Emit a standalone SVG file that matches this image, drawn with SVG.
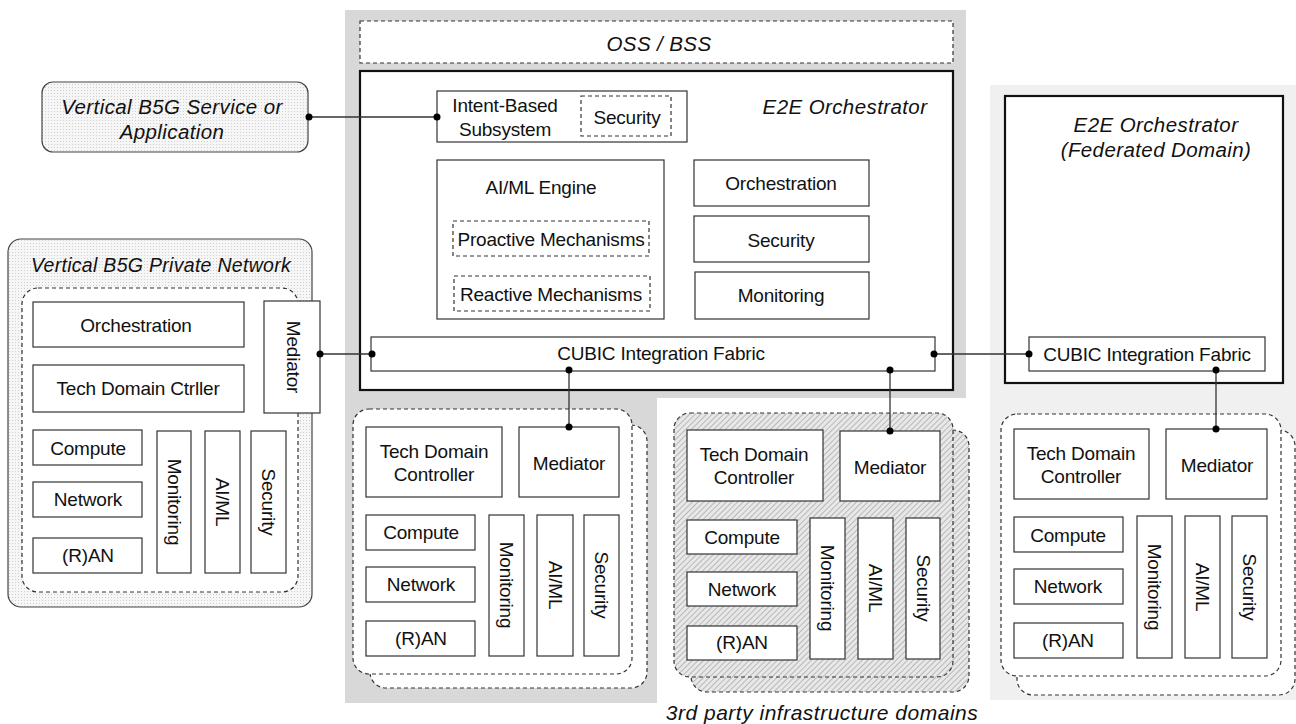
<svg xmlns="http://www.w3.org/2000/svg" width="1296" height="724" viewBox="0 0 1296 724">
<defs>
<pattern id="dots" width="3" height="3" patternUnits="userSpaceOnUse"><rect width="3" height="3" fill="#f6f6f6"/><rect width="1" height="1" fill="#cfcfcf"/></pattern>
<pattern id="hatch" width="4" height="4" patternUnits="userSpaceOnUse" patternTransform="rotate(45)"><rect width="4" height="4" fill="#e8e8e8"/><rect width="1" height="4" fill="#b8b8b8"/></pattern>
</defs>
<style>
text{font-family:"Liberation Sans",Arial,sans-serif;font-size:19px;fill:#111;text-anchor:middle;dominant-baseline:central;letter-spacing:-0.2px}
.it{font-style:italic;font-size:20.5px;letter-spacing:0.4px}
.b{fill:#fff;stroke:#333;stroke-width:1.2}
.d{fill:#fff;stroke:#333;stroke-width:1.2;stroke-dasharray:4 3}
.k{fill:#fff;stroke:#111;stroke-width:2.2}
.c{stroke:#333;stroke-width:1.3;fill:none}
.dot{fill:#000}
</style>
<g id="backgrounds">
<path d="M345 10H966V398H657V703H345Z" fill="#d8d8d8"/>
<rect x="990" y="85" width="306" height="615" fill="#f0f0f0"/>
</g>
<g id="oss-bss"><rect class="d" x="360" y="21" width="593" height="42"/><text class="it" x="659" y="43">OSS / BSS</text></g>
<g id="e2e-orchestrator">
<rect class="k" x="360" y="71" width="593" height="319"/>
<text class="it" x="845" y="106">E2E Orchestrator</text>
</g>
<g id="intent-based">
<rect class="b" x="437" y="91" width="250" height="51"/>
<text x="505" y="105">Intent-Based</text><text x="505" y="129">Subsystem</text>
<rect class="d" x="581" y="96" width="90" height="40"/><text x="627" y="117">Security</text>
</g>
<g id="aiml-engine">
<rect class="b" x="437" y="160" width="227" height="159"/>
<text x="541" y="187">AI/ML Engine</text>
<rect class="d" x="453" y="221" width="196" height="35"/><text x="551" y="239">Proactive Mechanisms</text>
<rect class="d" x="454" y="276" width="196" height="35"/><text x="551" y="294">Reactive Mechanisms</text>
</g>
<g id="e2e-orch"><rect class="b" x="694" y="160" width="175" height="46"/><text x="781" y="183">Orchestration</text></g>
<g id="e2e-sec"><rect class="b" x="694" y="216" width="175" height="46"/><text x="781" y="240">Security</text></g>
<g id="e2e-mon"><rect class="b" x="695" y="272" width="174" height="47"/><text x="781" y="295">Monitoring</text></g>
<g id="cubic-main"><rect class="b" x="371" y="337" width="564" height="34"/><text x="661" y="353">CUBIC Integration Fabric</text></g>

<g id="vertical-service">
<rect x="42" y="82" width="266" height="70" rx="11" fill="url(#dots)" stroke="#444" stroke-width="1.2"/>
<text class="it" x="172" y="106">Vertical B5G Service or</text>
<text class="it" x="172" y="131">Application</text>
</g>

<g id="private-network">
<rect x="8" y="239" width="304" height="368" rx="13" fill="url(#dots)" stroke="#444" stroke-width="1.2"/>
<text class="it" x="161" y="265" style="font-size:19.5px;letter-spacing:0.3px">Vertical B5G Private Network</text>
<rect class="d" x="22" y="288" width="276" height="304" rx="16"/>
<rect class="b" x="33" y="302" width="211" height="45"/><text x="136" y="325">Orchestration</text>
<rect class="b" x="33" y="365" width="211" height="47"/><text x="138" y="388">Tech Domain Ctrller</text>
<rect class="b" x="264" y="301" width="56" height="112"/><text transform="translate(293 357) rotate(90)">Mediator</text>
<rect class="b" x="33" y="430" width="109" height="35"/><text x="88" y="448">Compute</text>
<rect class="b" x="33" y="482" width="109" height="35"/><text x="88" y="499">Network</text>
<rect class="b" x="33" y="538" width="109" height="35"/><text x="88" y="555">(R)AN</text>
<rect class="b" x="157" y="431" width="34" height="142"/><text transform="translate(174 502) rotate(90)">Monitoring</text>
<rect class="b" x="205" y="431" width="35" height="142"/><text transform="translate(222 502) rotate(90)">AI/ML</text>
<rect class="b" x="251" y="431" width="35" height="142"/><text transform="translate(268 502) rotate(90)">Security</text>
</g>

<g id="domain-1">
<rect class="d" x="370" y="425" width="277" height="263" rx="16"/>
<rect class="d" x="353" y="409" width="279" height="265" rx="16"/>
<rect class="b" x="366" y="427" width="136" height="70"/><text x="434" y="451">Tech Domain</text><text x="434" y="474">Controller</text>
<rect class="b" x="519" y="427" width="100" height="70"/><text x="569" y="463">Mediator</text>
<rect class="b" x="366" y="515" width="109" height="35"/><text x="421" y="532">Compute</text>
<rect class="b" x="366" y="567" width="109" height="35"/><text x="421" y="584">Network</text>
<rect class="b" x="366" y="621" width="109" height="35"/><text x="421" y="638">(R)AN</text>
<rect class="b" x="489" y="515" width="35" height="141"/><text transform="translate(506 585) rotate(90)">Monitoring</text>
<rect class="b" x="537" y="515" width="36" height="141"/><text transform="translate(555 585) rotate(90)">AI/ML</text>
<rect class="b" x="584" y="515" width="35" height="141"/><text transform="translate(601 585) rotate(90)">Security</text>
</g>

<g id="domain-3rd-party">
<rect x="691" y="430" width="278" height="262" rx="16" fill="url(#hatch)" stroke="#333" stroke-width="1.2" stroke-dasharray="4 3"/>
<rect x="674" y="413" width="279" height="264" rx="16" fill="url(#hatch)" stroke="#333" stroke-width="1.2" stroke-dasharray="4 3"/>
<rect class="b" x="687" y="430" width="136" height="71"/><text x="754" y="454">Tech Domain</text><text x="754" y="477">Controller</text>
<rect class="b" x="840" y="431" width="100" height="70"/><text x="890" y="467">Mediator</text>
<rect class="b" x="687" y="520" width="110" height="34"/><text x="742" y="537">Compute</text>
<rect class="b" x="687" y="572" width="110" height="34"/><text x="742" y="589">Network</text>
<rect class="b" x="687" y="626" width="110" height="34"/><text x="742" y="642">(R)AN</text>
<rect class="b" x="810" y="518" width="35" height="141"/><text transform="translate(827 588) rotate(90)">Monitoring</text>
<rect class="b" x="858" y="518" width="35" height="141"/><text transform="translate(875 588) rotate(90)">AI/ML</text>
<rect class="b" x="906" y="518" width="34" height="141"/><text transform="translate(923 588) rotate(90)">Security</text>
<text class="it" x="822" y="712" style="font-size:21px;letter-spacing:0.5px">3rd party infrastructure domains</text>
</g>

<g id="e2e-federated">
<rect class="k" x="1005" y="96" width="278" height="287"/>
<text class="it" x="1156" y="124">E2E Orchestrator</text>
<text class="it" x="1156" y="149">(Federated Domain)</text>
<rect class="b" x="1029" y="337" width="236" height="34"/><text x="1147" y="354">CUBIC Integration Fabric</text>
</g>

<g id="domain-federated">
<rect class="d" x="1017" y="430" width="278" height="265" rx="16"/>
<rect class="d" x="1001" y="414" width="280" height="262" rx="16"/>
<rect class="b" x="1014" y="429" width="135" height="70"/><text x="1081" y="453">Tech Domain</text><text x="1081" y="476">Controller</text>
<rect class="b" x="1166" y="429" width="101" height="70"/><text x="1217" y="465">Mediator</text>
<rect class="b" x="1014" y="517" width="109" height="35"/><text x="1068" y="535">Compute</text>
<rect class="b" x="1014" y="569" width="109" height="35"/><text x="1068" y="586">Network</text>
<rect class="b" x="1014" y="623" width="109" height="35"/><text x="1068" y="640">(R)AN</text>
<rect class="b" x="1137" y="516" width="35" height="142"/><text transform="translate(1154 587) rotate(90)">Monitoring</text>
<rect class="b" x="1185" y="516" width="35" height="142"/><text transform="translate(1202 587) rotate(90)">AI/ML</text>
<rect class="b" x="1232" y="516" width="35" height="142"/><text transform="translate(1249 587) rotate(90)">Security</text>
</g>

<g id="connectors">
<path class="c" d="M309 117H437"/>
<path class="c" d="M320 354H372"/>
<path class="c" d="M934 354H1029"/>
<path class="c" d="M569 370V427"/>
<path class="c" d="M890 370V431"/>
<path class="c" d="M1216 370V429"/>
<circle class="dot" cx="309" cy="117" r="3.5"/><circle class="dot" cx="437" cy="117" r="3.5"/>
<circle class="dot" cx="320" cy="354" r="3.5"/><circle class="dot" cx="372" cy="354" r="3.5"/>
<circle class="dot" cx="934" cy="354" r="3.5"/><circle class="dot" cx="1029" cy="354" r="3.5"/>
<circle class="dot" cx="569" cy="370" r="3.5"/><circle class="dot" cx="569" cy="427" r="3.5"/>
<circle class="dot" cx="890" cy="370" r="3.5"/><circle class="dot" cx="890" cy="431" r="3.5"/>
<circle class="dot" cx="1216" cy="370" r="3.5"/><circle class="dot" cx="1216" cy="429" r="3.5"/>
</g>
</svg>
